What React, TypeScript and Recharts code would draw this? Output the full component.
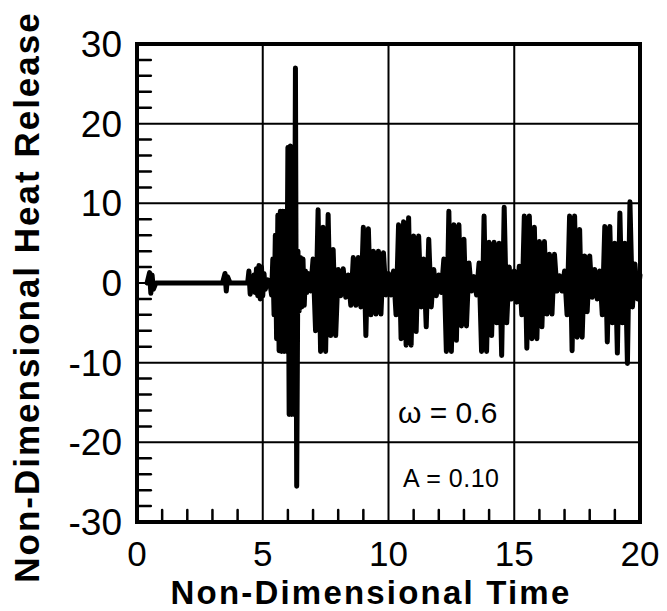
import { LineChart, Line, XAxis, YAxis, CartesianGrid, ReferenceArea, ReferenceLine } from 'recharts';

// non-dimensional time (irregular steps: denser inside the first burst)
const time = [
  0.4, 0.5, 0.55, 0.6, 0.65, 0.75, 3.4, 3.5, 3.55, 3.6, 3.7, 4.4, 4.45, 4.5, 4.6, 4.65, 4.7, 4.75, 4.8, 4.85, 4.9, 4.95,
  5.0, 5.05, 5.1, 5.2, 5.3, 5.35,
  5.4, 5.45, 5.5, 5.55, 5.6, 5.65, 5.7, 5.75, 5.8, 5.85, 5.9, 5.95, 6.0, 6.05, 6.1, 6.15, 6.2, 6.25, 6.3, 6.35, 6.4,
  6.45, 6.5, 6.55, 6.6, 6.65, 6.7, 6.75,
  6.8, 6.9, 7.0, 7.1, 7.2, 7.3, 7.4, 7.5, 7.6, 7.7, 7.8, 7.9, 8.0, 8.1, 8.2, 8.3, 8.4, 8.5, 8.6, 8.7, 8.8, 8.9, 9.0,
  9.1, 9.2, 9.3, 9.4, 9.5, 9.6, 9.7, 9.8, 9.9, 10.0, 10.1, 10.2, 10.3, 10.4, 10.5, 10.6, 10.7, 10.8, 10.9, 11.0, 11.1,
  11.2, 11.3, 11.4, 11.5, 11.6, 11.7, 11.8, 11.9, 12.0, 12.1, 12.2, 12.3, 12.4, 12.5, 12.6, 12.7, 12.8, 12.9, 13.0,
  13.1, 13.2, 13.3, 13.4, 13.5, 13.6, 13.7, 13.8, 13.9, 14.0, 14.1, 14.2, 14.3, 14.4, 14.5, 14.6, 14.7, 14.8, 14.9,
  15.0, 15.1, 15.2, 15.3, 15.4, 15.5, 15.6, 15.7, 15.8, 15.9, 16.0, 16.1, 16.2, 16.3, 16.4, 16.5, 16.6, 16.7, 16.8,
  16.9, 17.0, 17.1, 17.2, 17.3, 17.4, 17.5, 17.6, 17.7, 17.8, 17.9, 18.0, 18.1, 18.2, 18.3, 18.4, 18.5, 18.6, 18.7,
  18.8, 18.9, 19.0, 19.1, 19.2, 19.3, 19.4, 19.5, 19.6, 19.7, 19.8, 19.9, 20.0,
];

// non-dimensional heat release
const heat = [
  0, 1.3, -1.3, 1.0, -0.8, 0, 0, 1.2, -1.0, 0.8, 0, 0, 1.5, -1.4, 0, 1.0, -1.2, 1.8, -1.6, 2.2, -2.0, 2.0,
  -1.6, 1.2, -0.8, 0.4, -0.3, -1.5,
  3, -4, 6, -7, 8.5, -8.5, 9, -8.6, 9, -8.6, 9, -8.6, 17, -16.5, 17.2, -16.5, 17, -16.5, 27, -25.5, 4,
  -3.5, 3.2, -3, 3, -2.8, 1.5, -1.2,
  1.2, -1.0, 3, -6, 9.2, -8.6, 7, -8.6, 8.6, -6.6, 4.2, -6.6, 1.7, -1.6, 1.8, -1.8, 1, -2.8, 3.2, -2.8, 3.2, -3, 7,
  -6.6, 6.8, -4, 4, -3.9, 4, -3.9, 3.8, -1.5, 1.2, -1.5, 1.5, -4, 7.3, -7, 7.7, -7.8, 8.2, -7.8, 5.9, -6.1,
  5.9, -3, 3, -5.5, 5.5, -3, 1.7, -1.6, 1, -1.2, 3, -8.6, 9, -8.6, 7.3, -7.2, 7.3, -5.4, 5.5,
  -5.4, 2.5, -1, 0.8, -1.5, 2.5, -8.6, 8.4, -8.6, 5.1, -6.6, 5.1, -5, 5, -9.1, 9.5, -5, 2, -2,
  1.5, -2.4, 2.1, -4, 8.4, -8.2, 8.4, -7, 7, -7, 5.2, -5.5, 5.2, -3.9, 3.6, -3.9, 3.6, -1, 0.9,
  -1, 1.5, -4, 8.4, -8.5, 8.4, -6.8, 6.7, -6.8, 3.4, -3.6, 3.4, -1.8, 1.7, -2, 1.5, -4, 7.1, -7.4,
  7.1, -5, 5, -8.8, 8.8, -5, 5, -10.1, 10.2, -3, 2.4, -2, 1,
];

const xTicks = [0, 5, 10, 15, 20];
const yTicks = [-30, -20, -10, 0, 10, 20, 30];
const xMinor = [1, 2, 3, 4, 6, 7, 8, 9, 11, 12, 13, 14, 16, 17, 18, 19];
const yMinor = [-28, -26, -24, -22, -18, -16, -14, -12, -8, -6, -4, -2, 2, 4, 6, 8, 12, 14, 16, 18, 22, 24, 26, 28];

const data = time.map((t, i) => ({ t, q: heat[i] }));

const font = '"Liberation Sans", Arial, Helvetica, sans-serif';

const XTick = ({ x, payload }: any) => (
  <text x={x} y={566} textAnchor="middle" fontSize={35} fontFamily={font} fill="#000">
    {payload.value}
  </text>
);

const YTick = ({ y, payload }: any) => (
  <text x={122} y={y + 13} textAnchor="end" fontSize={37} fontFamily={font} fill="#000">
    {payload.value}
  </text>
);

export default function App() {
  return (
    <div style={{ position: 'absolute', left: 0, top: 0, width: 667, height: 611, background: '#fff' }}>
      <LineChart width={667} height={611} data={data} margin={{ top: 44, right: 27, bottom: 29, left: 57 }}>
        <CartesianGrid stroke="#000" strokeWidth={2} />
        <XAxis
          dataKey="t"
          type="number"
          domain={[0, 20]}
          ticks={xTicks}
          tick={<XTick />}
          axisLine={false}
          tickLine={false}
          height={60}
        />
        <YAxis
          type="number"
          domain={[-30, 30]}
          ticks={yTicks}
          tick={<YTick />}
          axisLine={false}
          tickLine={false}
          width={80}
        />
        {xMinor.map((v) => (
          <ReferenceLine
            key={'x' + v}
            segment={[{ x: v, y: -30 }, { x: v, y: -28.5 }]}
            stroke="#000"
            strokeWidth={2.5}
            strokeLinecap="round"
          />
        ))}
        {yMinor.map((v) => (
          <ReferenceLine
            key={'y' + v}
            segment={[{ x: 0, y: v }, { x: 0.55, y: v }]}
            stroke="#000"
            strokeWidth={2.5}
            strokeLinecap="round"
          />
        ))}
        <Line
          type="linear"
          dataKey="q"
          stroke="#000"
          strokeWidth={5}
          strokeLinejoin="round"
          strokeLinecap="round"
          dot={false}
          isAnimationActive={false}
        />
        <ReferenceArea x1={0} x2={20} y1={-30} y2={30} fill="none" fillOpacity={0} stroke="#000" strokeWidth={4} />
      </LineChart>
      <svg
        width={667}
        height={611}
        style={{ position: 'absolute', left: 0, top: 0, pointerEvents: 'none' }}
        fontFamily={font}
      >
        <text x={371} y={604} textAnchor="middle" fontSize={33} fontWeight="bold" letterSpacing={2.2}>
          Non-Dimensional Time
        </text>
        <text
          x={39}
          y={297}
          transform="rotate(-90 39 297)"
          textAnchor="middle"
          fontSize={35}
          fontWeight="bold"
          letterSpacing={2}
        >
          Non-Dimensional Heat Release
        </text>
        <text x={398} y={423} fontSize={30}>
          ω = 0.6
        </text>
        <text x={403} y={487} fontSize={25} letterSpacing={0.5}>
          A = 0.10
        </text>
      </svg>
    </div>
  );
}
